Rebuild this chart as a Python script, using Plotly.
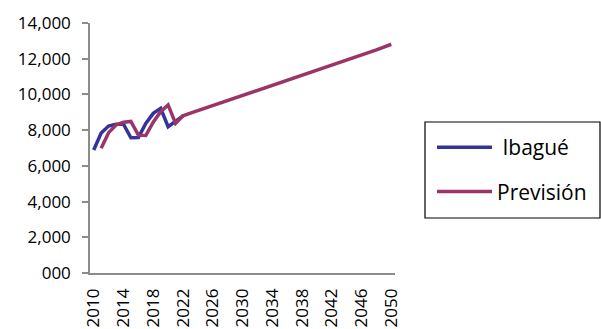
import plotly.graph_objects as go

# Observed population series and projection
years_obs = list(range(2010, 2023))
ibague = [6890, 7840, 8230, 8330, 8330, 7570, 7580, 8380, 8940, 9220, 8190, 8470, 8800]

years_proj = list(range(2011, 2051))
prevision = [6980, 7860, 8290, 8440, 8490, 7720, 7700, 8450, 9030, 9410, 8380, 8800,
             8950, 9090, 9230, 9370, 9510, 9650, 9790, 9930, 10070, 10210, 10350,
             10490, 10630, 10770, 10910, 11050, 11190, 11330, 11470, 11610, 11750,
             11900, 12040, 12190, 12340, 12490, 12650, 12810]

y_ticks = [0, 2000, 4000, 6000, 8000, 10000, 12000, 14000]
y_tick_text = ["000", "2,000", "4,000", "6,000", "8,000", "10,000", "12,000", "14,000"]
x_ticks = list(range(2010, 2051, 4))

FONT = "Open Sans"

fig = go.Figure()
fig.add_trace(go.Scatter(x=years_obs, y=ibague, mode="lines", name="\u00a0Ibagué",
                         legendgroup="a",
                         line=dict(color="#32339B", width=3.5)))
fig.add_trace(go.Scatter(x=years_proj, y=prevision, mode="lines", name="Previsión",
                         legendgroup="b",
                         line=dict(color="#9B3468", width=3.5)))

# legend frame
fig.add_shape(type="rect", xref="paper", yref="paper",
              x0=(425 - 90) / 305, x1=(600 - 90) / 305,
              y0=(273 - 218) / 250, y1=(273 - 122) / 250,
              line=dict(color="black", width=1.2), fillcolor="white", layer="below")

fig.update_layout(
    width=601, height=329,
    margin=dict(l=90, r=206, t=23, b=56, autoexpand=False),
    paper_bgcolor="white", plot_bgcolor="white",
    font=dict(family=FONT, color="black"),
    showlegend=True,
    legend=dict(x=(432 - 90) / 305, y=(273 - 127) / 250, xanchor="left", yanchor="top",
                bgcolor="rgba(0,0,0,0)", borderwidth=0,
                font=dict(family=FONT, size=21, color="black"),
                traceorder="grouped", tracegroupgap=14, itemwidth=55),
    xaxis=dict(range=[2009.5, 2050.5], tickmode="array", tickvals=x_ticks,
               ticktext=[str(v) for v in x_ticks], tickangle=-90,
               tickfont=dict(family=FONT, size=17), ticks="", automargin=False,
               showline=True, linecolor="#8c8c8c", linewidth=1.5,
               showgrid=False, zeroline=False, ticklabelstandoff=7),
    yaxis=dict(range=[0, 14000], tickmode="array", tickvals=y_ticks, ticktext=y_tick_text,
               tickfont=dict(family=FONT, size=17), ticks="outside", ticklen=6,
               tickcolor="#8c8c8c", tickwidth=1.5, automargin=False,
               showline=True, linecolor="#8c8c8c", linewidth=1.5,
               showgrid=False, zeroline=False, ticklabelstandoff=8),
)

fig.write_html("out.html")
